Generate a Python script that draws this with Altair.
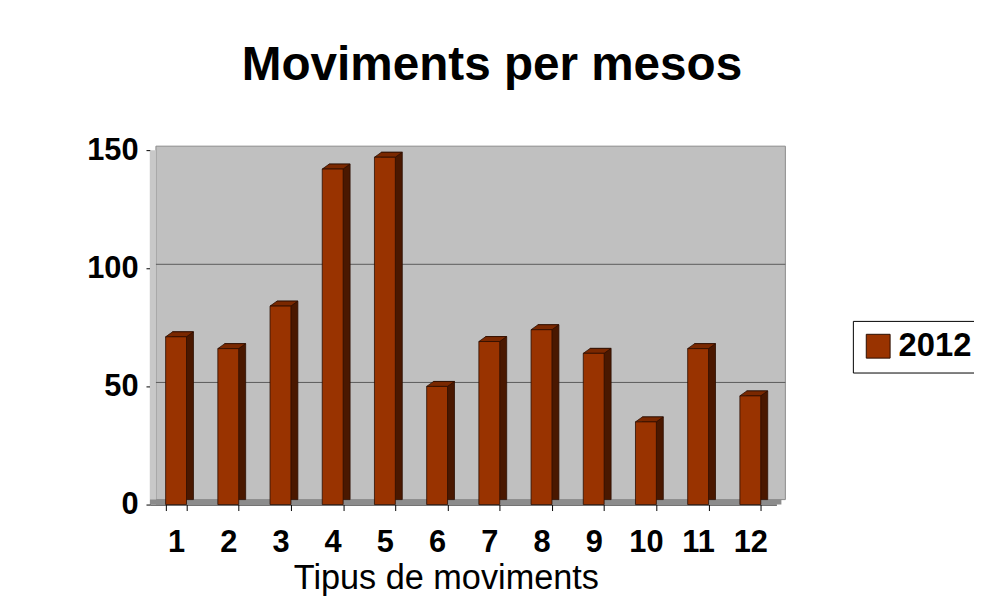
import altair as alt
import pandas as pd

# ---- data ----
months = ["1", "2", "3", "4", "5", "6", "7", "8", "9", "10", "11", "12"]
values = [71, 66, 84, 142, 147, 50, 69, 74, 64, 35, 66, 46]
series = ["2012"] * 12
grid_values = [50, 100]
y_ticks = [0, 50, 100, 150]

W, H = 631, 357
FONT = "Liberation Sans"

df = pd.DataFrame({"mes": months, "valor": values, "serie": series})
grid_df = pd.DataFrame({"valor": grid_values})
one = pd.DataFrame({"k": [0]})

xs = alt.Scale(domain=months, paddingInner=0.6, paddingOuter=0.3)
ys = alt.Scale(domain=[0, 150], nice=False, zero=True)

x_axis = alt.Axis(
    title="Tipus de moviments", labelAngle=0, labelFont=FONT, labelFontSize=31,
    labelFontWeight="bold", labelColor="black", labelPadding=17,
    tickBand="extent", tickSize=6, tickColor="black", tickWidth=1,
    domainColor="black", domainWidth=1, grid=False,
    titleFont=FONT, titleFontSize=34.5, titleFontWeight="normal", titleColor="black",
    titleX=298, titleY=85, titleBaseline="alphabetic", titleAlign="center",
)
y_axis = alt.Axis(
    values=y_ticks, title=None, labelFont=FONT, labelFontSize=31,
    labelFontWeight="bold", labelColor="black", labelPadding=8,
    tickSize=4, tickColor="black", domainColor="black", grid=False,
)
x_enc = alt.X("mes:N", sort=months, scale=xs, axis=x_axis)
y_enc = alt.Y("valor:Q", scale=ys, axis=y_axis)

# back wall, left wall, floor (3D decoration)
wall = alt.Chart(one).mark_rect(fill="#c0c0c0", stroke="#8a8a8a", strokeWidth=1).encode(
    x=alt.value(6), x2=alt.value(W + 9), y=alt.value(-4), y2=alt.value(H - 5)
)
side_wall = alt.Chart(one).mark_rect(fill="#c8c8c8").encode(
    x=alt.value(0), x2=alt.value(6), y=alt.value(0), y2=alt.value(H)
)
grid = alt.Chart(grid_df).mark_rule(color="#5c5c5c", strokeWidth=1, yOffset=-4).encode(
    y=y_enc, x=alt.value(6), x2=alt.value(W + 9)
)
floor = alt.Chart(one).mark_rect(fill="#8c8c8c").encode(
    x=alt.value(0), x2=alt.value(W + 5), y=alt.value(H - 5), y2=alt.value(H)
)

base = alt.Chart(df)

back = base.mark_bar(color="#4a1800", stroke="#2b0e00", strokeWidth=0.8, xOffset=7, yOffset=-5).encode(
    x=x_enc, y=y_enc
)
top = base.mark_point(
    shape="M-10.5,0L10.5,0L17.5,-5L-3.5,-5Z", size=4, filled=True,
    color="#7a2800", stroke="#2b0e00", strokeWidth=0.8, opacity=1
).encode(x=x_enc, y=y_enc)

front = base.mark_bar(stroke="#2b0e00", strokeWidth=0.8).encode(
    x=x_enc,
    y=y_enc,
    color=alt.Color(
        "serie:N", scale=alt.Scale(range=["#993300"]),
        legend=alt.Legend(
            title=None, orient="none", legendX=708, legendY=172,
            strokeColor="black", fillColor="white", padding=9, cornerRadius=0,
            symbolType="square", symbolSize=576, symbolStrokeColor="#2b0e00",
            symbolStrokeWidth=1, symbolOffset=0, symbolOpacity=1,
            labelFont=FONT, labelFontSize=33, labelFontWeight="bold",
            labelColor="black", labelOffset=4,
        ),
    ),
)

chart = alt.layer(wall, side_wall, grid, floor, back, top, front).properties(
    width=W, height=H,
    title=alt.TitleParams(
        "Moviments per mesos", font=FONT, fontSize=48, fontWeight="bold",
        color="black", anchor="middle", frame="group", dx=29, offset=7,
        baseline="alphabetic",
    ),
    padding={"left": 143, "top": 141, "right": 199, "bottom": 99},
    autosize=alt.AutoSizeParams(type="none"),
    background="white",
).configure_view(strokeOpacity=0)

chart.save("out.html", embed_options={"renderer": "svg", "actions": False})
